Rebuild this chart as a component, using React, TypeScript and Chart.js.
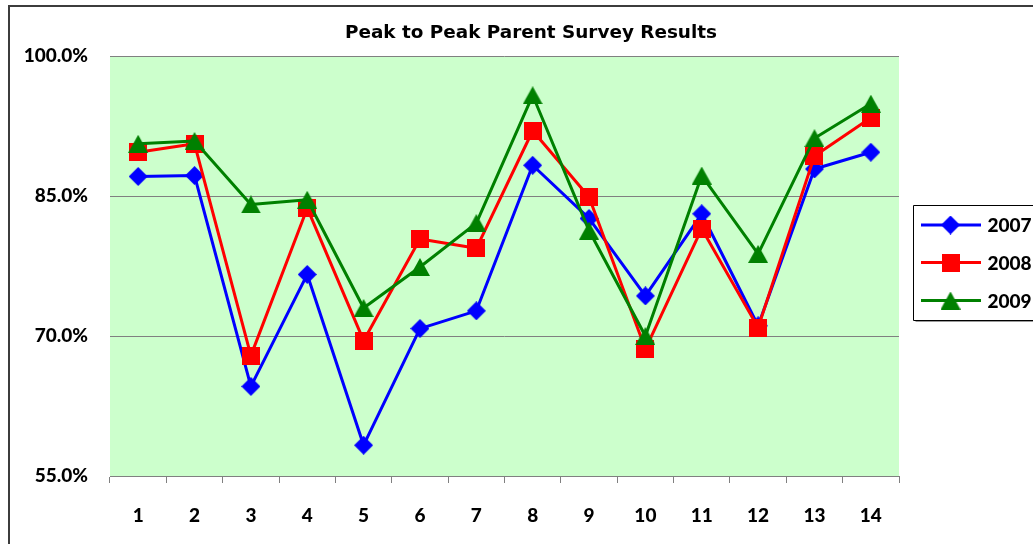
import React, { useEffect, useRef } from "react";
import { Chart, registerables } from "chart.js";

Chart.register(...registerables);

const categories = ["1", "2", "3", "4", "5", "6", "7", "8", "9", "10", "11", "12", "13", "14"];
const seriesNames = ["2007", "2008", "2009"];
const values2007 = [87.1, 87.2, 64.6, 76.6, 58.3, 70.8, 72.7, 88.3, 82.6, 74.3, 83.1, 71.1, 87.9, 89.7];
const values2008 = [89.7, 90.6, 67.9, 83.7, 69.5, 80.4, 79.4, 92.0, 84.9, 68.6, 81.5, 70.9, 89.3, 93.4];
const values2009 = [90.6, 90.9, 84.1, 84.6, 73.0, 77.4, 82.1, 95.8, 81.3, 70.0, 87.2, 78.8, 91.2, 94.9];
const yMin = 55;
const yMax = 100;
const yStep = 15;
const titleText = "Peak to Peak Parent Survey Results";

const FONT = "Lato, 'Open Sans', 'DejaVu Sans', sans-serif";
const TITLE_FONT = "'DejaVu Sans', Lato, sans-serif";

function makeMarker(shape: string, color: string): HTMLCanvasElement {
  const c = document.createElement("canvas");
  const ctx = c.getContext("2d")!;
  if (shape === "diamond") {
    c.width = 19; c.height = 19;
    ctx.fillStyle = color;
    ctx.beginPath();
    ctx.moveTo(9.5, 0); ctx.lineTo(19, 9.5); ctx.lineTo(9.5, 19); ctx.lineTo(0, 9.5);
    ctx.closePath(); ctx.fill();
  } else if (shape === "square") {
    c.width = 18; c.height = 18;
    ctx.fillStyle = color;
    ctx.fillRect(0, 0, 18, 18);
  } else {
    c.width = 20; c.height = 18;
    ctx.fillStyle = color;
    ctx.beginPath();
    ctx.moveTo(10, 0); ctx.lineTo(20, 18); ctx.lineTo(0, 18);
    ctx.closePath(); ctx.fill();
  }
  return c;
}

export default function App() {
  const ref = useRef<HTMLCanvasElement | null>(null);

  useEffect(() => {
    if (!ref.current) return;
    const colors = ["#0000FF", "#FF0000", "#008000"];
    const markers = [
      makeMarker("diamond", colors[0]),
      makeMarker("square", colors[1]),
      makeMarker("triangle", colors[2]),
    ];
    const seriesValues = [values2007, values2008, values2009];

    const bgPlugin = {
      id: "plotBg",
      beforeDraw(chart: any) {
        const { ctx, chartArea } = chart;
        ctx.save();
        ctx.fillStyle = "#FFFFFF";
        ctx.fillRect(0, 0, chart.width, chart.height);
        ctx.fillStyle = "#CCFFCC";
        ctx.fillRect(chartArea.left, chartArea.top, chartArea.right - chartArea.left, chartArea.bottom - chartArea.top);
        ctx.lineWidth = 2;
        ctx.strokeStyle = "#3c3c3c";
        ctx.beginPath();
        ctx.moveTo(1, chart.height + 5);
        ctx.lineTo(1, 1);
        ctx.lineTo(chart.width + 5, 1);
        ctx.stroke();
        ctx.restore();
      },
    };

    const legendPlugin = {
      id: "boxLegend",
      afterDraw(chart: any) {
        const { ctx } = chart;
        ctx.save();
        const left = 905.5, top = 200.5, bottom = 315.5;
        const farRight = chart.width + 20;
        ctx.fillStyle = "#FFFFFF";
        ctx.fillRect(left, top, farRight - left, bottom - top);
        ctx.strokeStyle = "#000000";
        ctx.lineWidth = 1;
        ctx.beginPath();
        ctx.moveTo(farRight, top);
        ctx.lineTo(left, top);
        ctx.lineTo(left, bottom);
        ctx.lineTo(farRight, bottom);
        ctx.stroke();
        ctx.strokeStyle = "#9a9a9a";
        ctx.beginPath();
        ctx.moveTo(left + 2, bottom + 1);
        ctx.lineTo(farRight, bottom + 1);
        ctx.stroke();
        const ys = [220, 257.5, 295.5];
        chart.data.datasets.forEach((ds: any, i: number) => {
          const y = ys[i];
          ctx.strokeStyle = ds.borderColor;
          ctx.lineWidth = 3;
          ctx.beginPath();
          ctx.moveTo(913, y);
          ctx.lineTo(973, y);
          ctx.stroke();
          const m = ds.pointStyle as HTMLCanvasElement;
          ctx.drawImage(m, 942.5 - m.width / 2, y - m.height / 2);
          ctx.fillStyle = "#000000";
          ctx.font = `900 19px ${FONT}`;
          ctx.textBaseline = "middle";
          ctx.textAlign = "left";
          ctx.fillText(ds.label, 979.5, y + 1);
        });
        ctx.restore();
      },
    };

    const chart = new Chart(ref.current, {
      type: "line",
      data: {
        labels: categories,
        datasets: seriesNames.map((name, i) => ({
          label: name,
          data: seriesValues[i],
          borderColor: colors[i],
          backgroundColor: colors[i],
          borderWidth: 3,
          borderJoinStyle: "round" as const,
          tension: 0,
          fill: false,
          pointStyle: markers[i] as any,
          pointRadius: 10,
          pointHoverRadius: 10,
          order: 2 - i,
          yAxisID: "y",
        })),
      },
      options: {
        responsive: false,
        animation: false,
        events: [],
        layout: { padding: { left: 0, right: 0, top: 0, bottom: 0 } },
        plugins: {
          legend: { display: false },
          tooltip: { enabled: false },
          title: {
            display: true,
            text: titleText,
            color: "#000000",
            font: { family: TITLE_FONT, size: 18.4, weight: "bold" },
            padding: { top: 17, bottom: 12 },
          },
        },
        scales: {
          x: {
            type: "category",
            offset: true,
            grid: {
              offset: true,
              drawOnChartArea: false,
              drawTicks: true,
              tickLength: 7,
              color: "#808080",
            },
            border: { display: true, color: "#808080", width: 1 },
            ticks: {
              color: "#000000",
              font: { family: FONT, size: 19, weight: "900" as any },
              padding: 21,
              maxRotation: 0,
              autoSkip: false,
            },
            afterFit(scale: any) {
              scale.height = 69;
            },
          },
          y: {
            type: "linear",
            position: "left",
            min: yMin,
            max: yMax,
            ticks: {
              stepSize: yStep,
              color: "#000000",
              font: { family: FONT, size: 19, weight: "900" as any },
              padding: 22,
              callback: (v: any) => Number(v).toFixed(1) + "%",
            },
            grid: { color: "#808080", drawTicks: false, lineWidth: 1 },
            border: { display: false },
            afterFit(scale: any) {
              scale.width = 102;
            },
          },
          yRight: {
            type: "linear",
            position: "right",
            display: true,
            min: yMin,
            max: yMax,
            ticks: { display: false },
            grid: { display: false, drawOnChartArea: false, drawTicks: false },
            border: { display: false },
            afterFit(scale: any) {
              scale.width = 155;
            },
          },
        },
      },
      plugins: [bgPlugin, legendPlugin],
    });
    return () => chart.destroy();
  }, []);

  return (
    <div style={{ position: "fixed", left: 8, top: 5, width: 1100, height: 539, overflow: "hidden", background: "#fff" }}>
      <canvas ref={ref} width={1046} height={540} style={{ display: "block" }} />
    </div>
  );
}
